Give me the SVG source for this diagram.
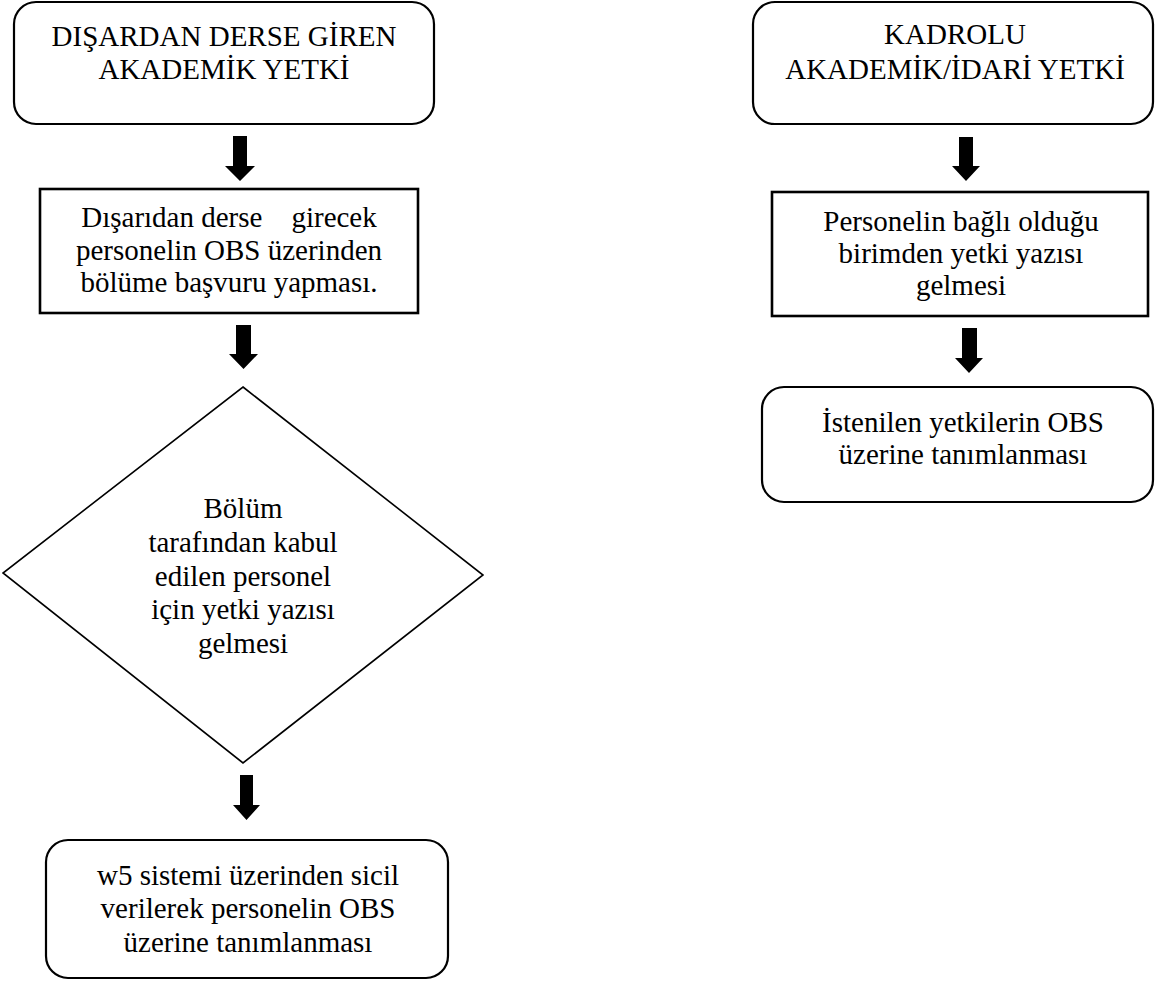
<svg xmlns="http://www.w3.org/2000/svg" width="1155" height="982" viewBox="0 0 1155 982">
<style>
.bx{fill:#fff;stroke:#000;stroke-width:2.2}
.dm{fill:#fff;stroke:#000;stroke-width:1.6}
.t{font-family:"Liberation Serif","Times New Roman",serif;font-size:29px;fill:#000;text-anchor:middle;white-space:pre}
.arr{fill:#000}
</style>
<rect width="1155" height="982" fill="#fff"/>
<g id="connectors">
<polygon class="arr" points="233,136 247,136 247,166 255,166 240,181 225,166 233,166"/>
<polygon class="arr" points="236,325 251,325 251,354 258,354 243.5,369 229,354 236,354"/>
<polygon class="arr" points="240,775 253,775 253,805 260,805 246.5,820 233,805 240,805"/>
<polygon class="arr" points="959,137 973,137 973,166 980,166 966,181 952,166 959,166"/>
<polygon class="arr" points="962,328 977,328 977,358 983,358 969,373 955,358 962,358"/>
</g>
<g id="n1">
<rect class="bx" x="14" y="2" width="420" height="122" rx="22" ry="22"/>
<text class="t" x="224" y="46">DIŞARDAN DERSE GİREN</text>
<text class="t" x="224" y="79">AKADEMİK YETKİ</text>
</g>
<g id="n2">
<rect class="bx" x="40" y="189" width="378" height="124" style="stroke-width:2.6"/>
<text class="t" x="229" y="227">Dışarıdan derse    girecek</text>
<text class="t" x="229" y="260">personelin OBS üzerinden</text>
<text class="t" x="229" y="292">bölüme başvuru yapması.</text>
</g>
<g id="n3">
<polygon class="dm" points="243,387 483,575 243,763 3,573"/>
<text class="t" x="243" y="518">Bölüm</text>
<text class="t" x="243" y="552">tarafından kabul</text>
<text class="t" x="243" y="586">edilen personel</text>
<text class="t" x="243" y="619">için yetki yazısı</text>
<text class="t" x="243" y="653">gelmesi</text>
</g>
<g id="n4">
<rect class="bx" x="46" y="840" width="402" height="138" rx="22" ry="22"/>
<text class="t" x="248" y="885">w5 sistemi üzerinden sicil</text>
<text class="t" x="248" y="918">verilerek personelin OBS</text>
<text class="t" x="248" y="952">üzerine tanımlanması</text>
</g>
<g id="r1">
<rect class="bx" x="753" y="2" width="400" height="122" rx="22" ry="22"/>
<text class="t" x="955" y="44">KADROLU</text>
<text class="t" x="955" y="79">AKADEMİK/İDARİ YETKİ</text>
</g>
<g id="r2">
<rect class="bx" x="772" y="192" width="376" height="124" style="stroke-width:2.6"/>
<text class="t" x="961" y="231">Personelin bağlı olduğu</text>
<text class="t" x="961" y="263">birimden yetki yazısı</text>
<text class="t" x="961" y="295">gelmesi</text>
</g>
<g id="r3">
<rect class="bx" x="762" y="387" width="391" height="115" rx="22" ry="22"/>
<text class="t" x="963" y="432">İstenilen yetkilerin OBS</text>
<text class="t" x="963" y="464">üzerine tanımlanması</text>
</g>
</svg>
